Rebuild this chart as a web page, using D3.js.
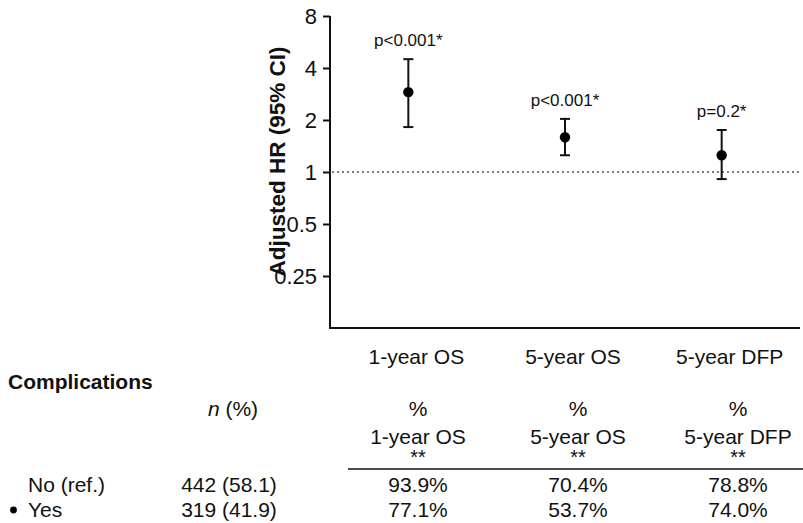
<!DOCTYPE html>
<html>
<head>
<meta charset="utf-8">
<script src="https://cdn.jsdelivr.net/npm/d3@7"></script>
<style>
  body { margin: 0; background: #fff; }
  svg { display: block; font-family: "Liberation Sans", Arial, sans-serif; }
</style>
</head>
<body>
<svg width="803" height="523"></svg>
<script>
const categories = ['1-year OS', '5-year OS', '5-year DFP'];
const hr = [2.9, 1.59, 1.25];
const ciLower = [1.82, 1.25, 0.91];
const ciUpper = [4.5, 2.03, 1.75];
const pLabels = ['p<0.001*', 'p<0.001*', 'p=0.2*'];
const yTicks = [0.25, 0.5, 1, 2, 4, 8];

const groups = ['No (ref.)', 'Yes'];
const nPct = ['442 (58.1)', '319 (41.9)'];
const survival = [
  ['93.9%', '70.4%', '78.8%'],
  ['77.1%', '53.7%', '74.0%']
];

const svg = d3.select('svg');
const ink = '#111';

const y = d3.scaleLog().base(2)
  .domain([0.125, 8])
  .range([328, 16]);
const x = d3.scaleBand()
  .domain(categories)
  .range([330, 800]);
const cx = d => x(d) + x.bandwidth() / 2;

// y axis
const yAxis = svg.append('g')
  .attr('transform', 'translate(330,0)')
  .call(d3.axisLeft(y).tickValues(yTicks).tickFormat(d3.format('')).tickSize(7).tickPadding(6).tickSizeOuter(0));
yAxis.select('.domain').attr('stroke', ink).attr('stroke-width', 2)
  .attr('d', `M0,${y(8)}V${y(0.125)}`);
yAxis.selectAll('.tick line').attr('stroke', ink).attr('stroke-width', 2);
yAxis.selectAll('.tick text').attr('font-size', 22).attr('fill', ink)
  .attr('font-family', '"Liberation Sans", Arial, sans-serif');

// x axis (line only)
svg.append('line')
  .attr('x1', 329).attr('x2', 800)
  .attr('y1', y(0.125)).attr('y2', y(0.125))
  .attr('stroke', ink).attr('stroke-width', 2);

svg.append('text')
  .attr('transform', `translate(277,${(53 + 270) / 2}) rotate(-90)`)
  .attr('text-anchor', 'middle')
  .attr('dominant-baseline', 'central')
  .attr('font-size', 22.5).attr('font-weight', 'bold').attr('fill', ink)
  .text('Adjusted HR (95% CI)');

// reference line at HR = 1
svg.append('line')
  .attr('x1', 332).attr('x2', 800)
  .attr('y1', y(1)).attr('y2', y(1))
  .attr('stroke', '#555').attr('stroke-width', 1.3)
  .attr('stroke-dasharray', '2,3');

// error bars
const marks = svg.append('g').selectAll('g')
  .data(categories)
  .join('g');
marks.append('line')
  .attr('x1', cx).attr('x2', cx)
  .attr('y1', (d, i) => y(ciLower[i])).attr('y2', (d, i) => y(ciUpper[i]))
  .attr('stroke', ink).attr('stroke-width', 2);
['lo', 'hi'].forEach(k => {
  marks.append('line')
    .attr('x1', d => cx(d) - 5).attr('x2', d => cx(d) + 5)
    .attr('y1', (d, i) => y(k === 'lo' ? ciLower[i] : ciUpper[i]))
    .attr('y2', (d, i) => y(k === 'lo' ? ciLower[i] : ciUpper[i]))
    .attr('stroke', ink).attr('stroke-width', 2);
});
marks.append('circle')
  .attr('cx', cx).attr('cy', (d, i) => y(hr[i]))
  .attr('r', 5.2).attr('fill', '#000');
marks.append('text')
  .attr('x', cx).attr('y', (d, i) => y(ciUpper[i]) - 13)
  .attr('text-anchor', 'middle')
  .attr('font-size', 17).attr('fill', ink)
  .text((d, i) => pLabels[i]);

// category labels
svg.append('g').selectAll('text')
  .data(categories)
  .join('text')
  .attr('x', d => cx(d) + 8).attr('y', 364)
  .attr('text-anchor', 'middle')
  .attr('font-size', 21).attr('fill', ink)
  .text(d => d);

// table
const col = d3.scalePoint().domain(categories).range([418, 738]);
const rowY = d3.scalePoint().domain(groups).range([492, 517]);

svg.append('text')
  .attr('x', 8).attr('y', 389)
  .attr('font-size', 21).attr('font-weight', 'bold').attr('fill', ink)
  .text('Complications');

const nHead = svg.append('text')
  .attr('x', 233).attr('y', 416)
  .attr('text-anchor', 'middle')
  .attr('font-size', 21).attr('fill', ink);
nHead.append('tspan').attr('font-style', 'italic').text('n');
nHead.append('tspan').text(' (%)');

const head = svg.append('g').selectAll('g')
  .data(categories)
  .join('g');
head.append('text')
  .attr('x', d => col(d)).attr('y', 416)
  .attr('text-anchor', 'middle').attr('font-size', 21).attr('fill', ink)
  .text('%');
head.append('text')
  .attr('x', d => col(d)).attr('y', 444)
  .attr('text-anchor', 'middle').attr('font-size', 21).attr('fill', ink)
  .text(d => d);
head.append('text')
  .attr('x', d => col(d)).attr('y', 464)
  .attr('text-anchor', 'middle').attr('font-size', 20).attr('fill', ink)
  .text('**');

svg.append('line')
  .attr('x1', 348).attr('x2', 803)
  .attr('y1', 469).attr('y2', 469)
  .attr('stroke', ink).attr('stroke-width', 1.5);

const rows = svg.append('g').selectAll('g')
  .data(groups)
  .join('g');
rows.append('text')
  .attr('x', 28).attr('y', d => rowY(d))
  .attr('font-size', 21).attr('fill', ink)
  .text(d => d);
rows.append('text')
  .attr('x', 229).attr('y', d => rowY(d))
  .attr('text-anchor', 'middle')
  .attr('font-size', 21).attr('fill', ink)
  .text((d, i) => nPct[i]);
rows.selectAll('.val')
  .data((d, i) => survival[i].map((v, j) => ({ v, c: categories[j], g: d })))
  .join('text')
  .attr('class', 'val')
  .attr('x', d => col(d.c)).attr('y', d => rowY(d.g))
  .attr('text-anchor', 'middle')
  .attr('font-size', 21).attr('fill', ink)
  .text(d => d.v);

svg.append('circle')
  .attr('cx', 13.5).attr('cy', rowY('Yes') - 7)
  .attr('r', 3.4).attr('fill', '#000');
</script>
</body>
</html>
